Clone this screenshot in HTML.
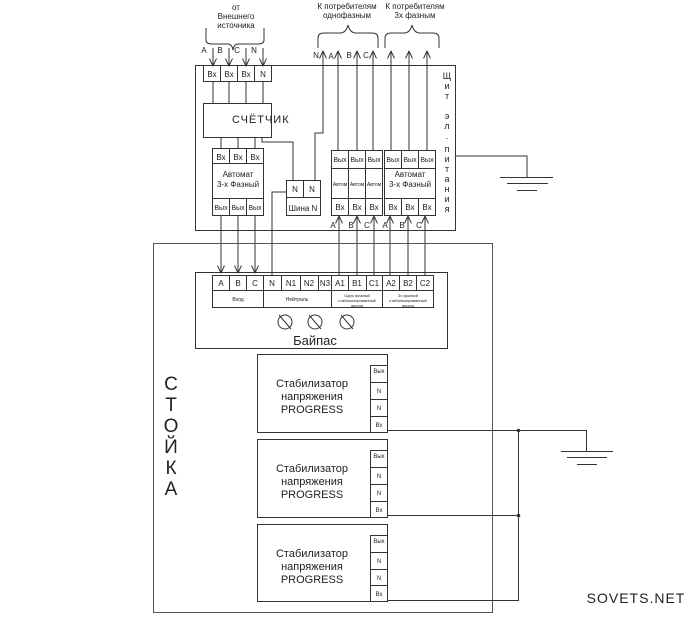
<!DOCTYPE html>
<html><head><meta charset="utf-8"><style>
html,body{margin:0;padding:0;background:#fff}
svg{display:block}
text{font-family:"Liberation Sans","DejaVu Sans",sans-serif;fill:#222}
</style></head><body>
<svg width="700" height="617" viewBox="0 0 700 617" xmlns="http://www.w3.org/2000/svg">
<defs>
<marker id="a" markerWidth="8" markerHeight="8" refX="7.5" refY="4" orient="auto" markerUnits="userSpaceOnUse" viewBox="0 0 8 8">
<path d="M0,0.5 L7.5,4 L0,7.5" fill="none" stroke="#333" stroke-width="1"/>
</marker>
</defs>
<g stroke="#333" stroke-width="1" fill="none">
<rect x="195.5" y="65.5" width="260" height="165"/>
<polyline points="455,156 527,156 527,177"/>
<line x1="500" y1="177.5" x2="553" y2="177.5"/>
<line x1="507" y1="183.5" x2="548" y2="183.5"/>
<line x1="517" y1="190.5" x2="537" y2="190.5"/>
<line x1="213" y1="48" x2="213" y2="66" marker-end="url(#a)"/>
<line x1="229" y1="48" x2="229" y2="66" marker-end="url(#a)"/>
<line x1="246" y1="48" x2="246" y2="66" marker-end="url(#a)"/>
<line x1="263" y1="48" x2="263" y2="66" marker-end="url(#a)"/>
<path d="M206,28 V40 Q206,44 212,44 H228 Q232,44 233,50 Q234,44 238,44 H258 Q264,44 264,40 V28"/>
<path d="M318,48 V38 Q318,33 324,33 H340 Q346,33 348,25 Q350,33 356,33 H372 Q378,33 378,38 V48"/>
<path d="M385,48 V38 Q385,33 391,33 H404 Q410,33 412,25 Q414,33 420,33 H433 Q439,33 439,38 V48"/>
<rect x="203.5" y="65.5" width="68" height="16"/>
<line x1="220.5" y1="65" x2="220.5" y2="82"/>
<line x1="237.5" y1="65" x2="237.5" y2="82"/>
<line x1="254.5" y1="65" x2="254.5" y2="82"/>
<line x1="213" y1="82" x2="213" y2="103"/>
<line x1="229" y1="82" x2="229" y2="103"/>
<line x1="246" y1="82" x2="246" y2="103"/>
<line x1="263" y1="82" x2="263" y2="103"/>
<rect x="203.5" y="103.5" width="68" height="34"/>
<line x1="221" y1="137" x2="221" y2="148"/>
<line x1="238" y1="137" x2="238" y2="148"/>
<line x1="255" y1="137" x2="255" y2="148"/>
<polyline points="262,137 262,142 293,142 293,180"/>
<rect x="212.5" y="148.5" width="51" height="67"/>
<line x1="212" y1="163.5" x2="263" y2="163.5"/>
<line x1="212" y1="198.5" x2="263" y2="198.5"/>
<line x1="229.5" y1="148" x2="229.5" y2="163"/>
<line x1="246.5" y1="148" x2="246.5" y2="163"/>
<line x1="229.5" y1="198" x2="229.5" y2="215"/>
<line x1="246.5" y1="198" x2="246.5" y2="215"/>
<line x1="221" y1="215" x2="221" y2="273" marker-end="url(#a)"/>
<line x1="238" y1="215" x2="238" y2="273" marker-end="url(#a)"/>
<line x1="255" y1="215" x2="255" y2="273" marker-end="url(#a)"/>
<rect x="286.5" y="180.5" width="34" height="35"/>
<line x1="286" y1="197.5" x2="320" y2="197.5"/>
<line x1="303.5" y1="180" x2="303.5" y2="197"/>
<polyline points="286,192 272,192 272,275"/>
<polyline points="315,180 315,133 323,133 323,51" marker-end="url(#a)"/>
<rect x="331.5" y="150.5" width="51" height="65"/>
<line x1="331" y1="168.5" x2="382" y2="168.5"/>
<line x1="331" y1="198.5" x2="382" y2="198.5"/>
<line x1="348.5" y1="150" x2="348.5" y2="215"/>
<line x1="365.5" y1="150" x2="365.5" y2="215"/>
<rect x="384.5" y="150.5" width="51" height="65"/>
<line x1="384" y1="168.5" x2="435" y2="168.5"/>
<line x1="384" y1="198.5" x2="435" y2="198.5"/>
<line x1="401.5" y1="150" x2="401.5" y2="168"/>
<line x1="418.5" y1="150" x2="418.5" y2="168"/>
<line x1="401.5" y1="198" x2="401.5" y2="215"/>
<line x1="418.5" y1="198" x2="418.5" y2="215"/>
<line x1="338" y1="150" x2="338" y2="51" marker-end="url(#a)"/>
<line x1="357" y1="150" x2="357" y2="51" marker-end="url(#a)"/>
<line x1="373" y1="150" x2="373" y2="51" marker-end="url(#a)"/>
<line x1="391" y1="150" x2="391" y2="51" marker-end="url(#a)"/>
<line x1="409" y1="150" x2="409" y2="51" marker-end="url(#a)"/>
<line x1="427" y1="150" x2="427" y2="51" marker-end="url(#a)"/>
<line x1="339" y1="275" x2="339" y2="216" marker-end="url(#a)"/>
<line x1="357" y1="275" x2="357" y2="216" marker-end="url(#a)"/>
<line x1="374" y1="275" x2="374" y2="216" marker-end="url(#a)"/>
<line x1="390" y1="275" x2="390" y2="216" marker-end="url(#a)"/>
<line x1="408" y1="275" x2="408" y2="216" marker-end="url(#a)"/>
<line x1="425" y1="275" x2="425" y2="216" marker-end="url(#a)"/>
<rect x="153.5" y="243.5" width="339" height="369" stroke="#555"/>
<rect x="195.5" y="272.5" width="252" height="76"/>
<rect x="212.5" y="275.5" width="221" height="32"/>
<line x1="212" y1="290.5" x2="433" y2="290.5"/>
<line x1="229.5" y1="275" x2="229.5" y2="290"/>
<line x1="246.5" y1="275" x2="246.5" y2="290"/>
<line x1="263.5" y1="275" x2="263.5" y2="307"/>
<line x1="281.5" y1="275" x2="281.5" y2="290"/>
<line x1="300.5" y1="275" x2="300.5" y2="290"/>
<line x1="318.5" y1="275" x2="318.5" y2="290"/>
<line x1="331.5" y1="275" x2="331.5" y2="307"/>
<line x1="348.5" y1="275" x2="348.5" y2="290"/>
<line x1="366.5" y1="275" x2="366.5" y2="290"/>
<line x1="382.5" y1="275" x2="382.5" y2="307"/>
<line x1="399.5" y1="275" x2="399.5" y2="290"/>
<line x1="416.5" y1="275" x2="416.5" y2="290"/>
<circle cx="285" cy="322" r="7"/><line x1="279" y1="315" x2="291" y2="329"/>
<circle cx="315" cy="322" r="7"/><line x1="309" y1="315" x2="321" y2="329"/>
<circle cx="347" cy="322" r="7"/><line x1="341" y1="315" x2="353" y2="329"/>
<rect x="257.5" y="354.5" width="130" height="78"/>
<rect x="370.5" y="365.5" width="17" height="67"/>
<line x1="370" y1="382.5" x2="387" y2="382.5"/><line x1="370" y1="399.5" x2="387" y2="399.5"/><line x1="370" y1="416.5" x2="387" y2="416.5"/>
<rect x="257.5" y="439.5" width="130" height="78"/>
<rect x="370.5" y="450.5" width="17" height="67"/>
<line x1="370" y1="467.5" x2="387" y2="467.5"/><line x1="370" y1="484.5" x2="387" y2="484.5"/><line x1="370" y1="501.5" x2="387" y2="501.5"/>
<rect x="257.5" y="524.5" width="130" height="77"/>
<rect x="370.5" y="535.5" width="17" height="66"/>
<line x1="370" y1="552.5" x2="387" y2="552.5"/><line x1="370" y1="569.5" x2="387" y2="569.5"/><line x1="370" y1="585.5" x2="387" y2="585.5"/>
<polyline points="387,430.5 586.5,430.5 586.5,451"/>
<polyline points="387,515.5 518.5,515.5"/>
<polyline points="387,600.5 518.5,600.5 518.5,430"/>
<circle cx="518.5" cy="430.5" r="1.3" fill="#333"/>
<circle cx="518.5" cy="515.5" r="1.3" fill="#333"/>
<line x1="561" y1="451.5" x2="613" y2="451.5"/>
<line x1="567" y1="457.5" x2="607" y2="457.5"/>
<line x1="577" y1="464.5" x2="597" y2="464.5"/>
</g>
<g font-size="8" text-anchor="middle">
<text x="236" y="10">от</text>
<text x="236" y="19">Внешнего</text>
<text x="236" y="28">источника</text>
<text x="347" y="9">К потребителям</text>
<text x="347" y="18">однофазным</text>
<text x="415" y="9">К потребителям</text>
<text x="415" y="18">3х фазным</text>
<text x="204" y="53">A</text><text x="220" y="53">B</text><text x="237" y="53">C</text><text x="254" y="53">N</text>
<text x="316" y="58">N</text><text x="331" y="59">A</text><text x="349" y="58">B</text><text x="366" y="58">C</text>
<text x="212" y="77">Вх</text><text x="229" y="77">Вх</text><text x="246" y="77">Вх</text><text x="263" y="77">N</text>
<text x="221" y="160">Вх</text><text x="238" y="160">Вх</text><text x="255" y="160">Вх</text>
<text x="238" y="177">Автомат</text><text x="238" y="187">3-х Фазный</text>
<text x="221" y="210" font-size="7">Вых</text><text x="238" y="210" font-size="7">Вых</text><text x="255" y="210" font-size="7">Вых</text>
<text x="295" y="192">N</text><text x="312" y="192">N</text>
<text x="303" y="211">Шина N</text>
<text x="340" y="162" font-size="7">Вых</text><text x="357" y="162" font-size="7">Вых</text><text x="374" y="162" font-size="7">Вых</text>
<text x="340" y="186" font-size="5">Автом</text><text x="357" y="186" font-size="5">Автом</text><text x="374" y="186" font-size="5">Автом</text>
<text x="340" y="210">Вх</text><text x="357" y="210">Вх</text><text x="374" y="210">Вх</text>
<text x="393" y="162" font-size="7">Вых</text><text x="410" y="162" font-size="7">Вых</text><text x="427" y="162" font-size="7">Вых</text>
<text x="410" y="177">Автомат</text><text x="410" y="187">3-х Фазный</text>
<text x="393" y="210">Вх</text><text x="410" y="210">Вх</text><text x="427" y="210">Вх</text>
<text x="333" y="228">A</text><text x="351" y="228">B</text><text x="367" y="228">C</text>
<text x="385" y="228">A</text><text x="402" y="228">B</text><text x="419" y="228">C</text>
<text x="221" y="286">A</text><text x="238" y="286">B</text><text x="255" y="286">C</text><text x="272" y="286">N</text>
<text x="291" y="286">N1</text><text x="309" y="286">N2</text><text x="325" y="286">N3</text>
<text x="340" y="286">A1</text><text x="357" y="286">B1</text><text x="374" y="286">C1</text>
<text x="391" y="286">A2</text><text x="408" y="286">B2</text><text x="425" y="286">C2</text>
<text x="238" y="301" font-size="5">Вход</text><text x="297" y="301" font-size="5">Нейтраль</text>
<text x="357" y="297" font-size="4">Одно фазный</text><text x="357" y="302" font-size="4">стабилизированный</text><text x="357" y="307" font-size="4">выход</text>
<text x="408" y="297" font-size="4">3х фазный</text><text x="408" y="302" font-size="4">стабилизированный</text><text x="408" y="307" font-size="4">выход</text>
</g>
<text x="232" y="123" font-size="11" letter-spacing="1">СЧЁТЧИК</text>
<text x="315" y="345" font-size="13" text-anchor="middle" fill="#333">Байпас</text>
<g font-size="11" text-anchor="middle" fill="#444">
<text x="312" y="387">Стабилизатор</text><text x="312" y="400">напряжения</text><text x="312" y="413">PROGRESS</text>
<text x="312" y="472">Стабилизатор</text><text x="312" y="485">напряжения</text><text x="312" y="498">PROGRESS</text>
<text x="312" y="557">Стабилизатор</text><text x="312" y="570">напряжения</text><text x="312" y="583">PROGRESS</text>
</g>
<g font-size="6" text-anchor="middle">
<text x="379" y="373">Вых</text><text x="379" y="393">N</text><text x="379" y="410">N</text><text x="379" y="427">Вх</text>
<text x="379" y="458">Вых</text><text x="379" y="478">N</text><text x="379" y="495">N</text><text x="379" y="512">Вх</text>
<text x="379" y="543">Вых</text><text x="379" y="563">N</text><text x="379" y="580">N</text><text x="379" y="596">Вх</text>
</g>
<g font-size="9" text-anchor="middle" fill="#444">
<text x="447" y="79">Щ</text><text x="447" y="89">и</text><text x="447" y="99">т</text>
<text x="447" y="119">э</text><text x="447" y="129">л</text><text x="447" y="139">.</text>
<text x="447" y="152">п</text><text x="447" y="162">и</text><text x="447" y="172">т</text><text x="447" y="182">а</text>
<text x="447" y="192">н</text><text x="447" y="202">и</text><text x="447" y="212">я</text>
</g>
<g font-size="19" text-anchor="middle" fill="#888">
<text x="171" y="390">С</text><text x="171" y="411">Т</text><text x="171" y="432">О</text>
<text x="171" y="453">Й</text><text x="171" y="474">К</text><text x="171" y="495">А</text>
</g>
<text x="636" y="603" font-size="14" text-anchor="middle" fill="#888" letter-spacing="1">SOVETS.NET</text>
</svg>
</body></html>
